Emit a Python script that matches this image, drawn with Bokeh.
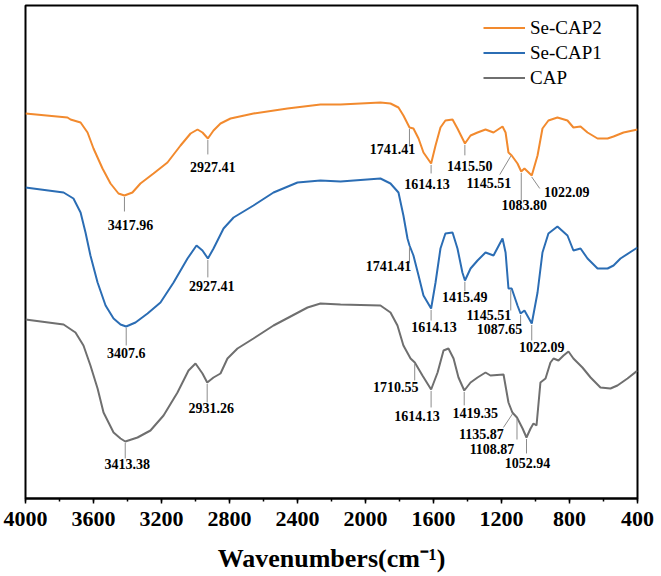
import numpy as np
from bokeh.plotting import figure
from bokeh.models import Range1d, SingleIntervalTicker, ColumnDataSource
from bokeh.core.properties import value
from bokeh.embed import file_html
from bokeh.resources import INLINE

# FTIR spectra (wavenumber in cm^-1, relative transmittance in a.u., stacked)
cap2_wn = [4000, 3753, 3735, 3676, 3635, 3600, 3547, 3500, 3453, 3418, 3371, 3324, 3247, 3165,
           3088, 3029, 2988, 2959, 2927, 2894, 2853, 2794, 2659, 2459, 2265, 2147, 1912, 1853,
           1806, 1777, 1741, 1718, 1688, 1659, 1614, 1588, 1559, 1530, 1488, 1459, 1415, 1382,
           1341, 1294, 1247, 1194, 1176, 1159, 1140, 1106, 1084, 1065, 1022, 988, 959, 924,
           871, 812, 777, 735, 694, 635, 576, 541, 482, 400]
cap2_t = [385, 381, 379, 376, 366, 350, 330, 315, 305, 303, 306, 315, 325, 336,
          353, 365, 369, 366, 360, 368, 375, 380, 385, 390, 394, 394, 396, 395,
          391, 383, 371, 370, 360, 346, 335, 353, 371, 378, 379, 370, 355, 363,
          366, 369, 366, 372, 366, 346, 343, 335, 327, 330, 323, 343, 370, 378,
          381, 378, 371, 372, 366, 360, 360, 362, 366, 369]

cap1_wn = [4000, 3776, 3718, 3676, 3647, 3618, 3576, 3529, 3482, 3441, 3408, 3353, 3282, 3206,
           3129, 3047, 2994, 2959, 2927, 2894, 2835, 2776, 2659, 2541, 2400, 2265, 2147, 1912,
           1853, 1806, 1777, 1753, 1741, 1718, 1688, 1659, 1614, 1588, 1559, 1530, 1488, 1459,
           1430, 1415, 1382, 1341, 1294, 1247, 1194, 1176, 1159, 1140, 1106, 1088, 1065, 1022,
           988, 959, 924, 871, 812, 777, 735, 694, 635, 576, 541, 500, 400]
cap1_t = [311, 306, 300, 286, 266, 243, 216, 193, 180, 174, 172, 176, 185, 196,
          216, 240, 253, 248, 240, 250, 270, 281, 293, 306, 316, 318, 317, 320,
          315, 306, 283, 260, 253, 243, 223, 203, 190, 216, 250, 265, 266, 250,
          226, 218, 230, 238, 246, 243, 260, 246, 210, 210, 193, 185, 188, 175,
          206, 246, 265, 272, 263, 248, 250, 240, 230, 230, 233, 240, 251]

cap_wn = [4000, 3776, 3706, 3659, 3618, 3576, 3541, 3482, 3441, 3413, 3341, 3265, 3188, 3106,
          3041, 3000, 2959, 2931, 2894, 2853, 2812, 2753, 2659, 2541, 2341, 2265, 2147, 1912,
          1853, 1812, 1777, 1735, 1710, 1665, 1614, 1576, 1541, 1512, 1482, 1453, 1419, 1382,
          1341, 1294, 1265, 1188, 1159, 1136, 1109, 1076, 1053, 1029, 1012, 994, 971, 941,
          912, 894, 865, 835, 806, 777, 724, 676, 618, 559, 518, 459, 400]
cap_t = [179, 174, 166, 153, 133, 110, 86, 66, 60, 57, 61, 68, 83, 106,
         128, 135, 125, 116, 121, 125, 140, 150, 160, 173, 191, 195, 194, 193,
         186, 173, 153, 140, 136, 123, 109, 126, 148, 150, 140, 121, 108, 116,
         121, 126, 123, 124, 96, 86, 81, 70, 61, 70, 75, 73, 116, 120,
         136, 140, 138, 143, 147, 140, 131, 121, 111, 110, 113, 120, 128]

# annotated band positions
cap2_peaks = [3417.96, 2927.41, 1741.41, 1614.13, 1415.50, 1145.51, 1083.80, 1022.09]
cap2_labels = ["3417.96", "2927.41", "1741.41", "1614.13", "1415.50", "1145.51", "1083.80", "1022.09"]
cap1_peaks = [3407.6, 2927.41, 1741.41, 1614.13, 1415.49, 1145.51, 1087.65, 1022.09]
cap1_labels = ["3407.6", "2927.41", "1741.41", "1614.13", "1415.49", "1145.51", "1087.65", "1022.09"]
cap_peaks = [3413.38, 2931.26, 1710.55, 1614.13, 1419.35, 1135.87, 1108.87, 1052.94]
cap_labels = ["3413.38", "2931.26", "1710.55", "1614.13", "1419.35", "1135.87", "1108.87", "1052.94"]

series_names = ["Se-CAP2", "Se-CAP1", "CAP"]

# screen-pixel layout of each leader line end (dx, dy) and label centre (dx, dy)
cap2_layout = [(0, 16, 6, 30), (0, 16, 5, 29), (0, 19, -17, 22), (0, 10, -4, 21),
               (0, 12, 5, 23), (-11, 20, -22, 28), (0, 29, 3, 34), (8, 13, 35, 17)]
cap1_layout = [(0, 19, 0, 27), (0, 19, 4, 28), (0, 18, -21, 21), (0, 12, 3, 19),
               (0, 11, 0, 17), (0, 22, -22, 26), (0, 12, -21, 16), (0, 17, 10, 24)]
cap_layout = [(0, 17, 2, 23), (0, 20, 4, 26), (0, 18, -19, 25), (0, 18, -14, 27),
              (0, 15, 11, 23), (-9, 15, -31, 21), (0, 22, -25, 31), (0, 16, 1, 26)]

colors = ["#F28A2E", "#2B6DB4", "#6F6F6F"]

X_START, X_END = 4000, 400
Y_START, Y_END = 0, 493
W, H = 661, 576
BORDER_L, BORDER_R, BORDER_T, BORDER_B = 25, 24, 5, 78
FRAME_W = W - BORDER_L - BORDER_R
FRAME_H = H - BORDER_T - BORDER_B
wn_per_px = (X_START - X_END) / FRAME_W
y_per_px = (Y_END - Y_START) / FRAME_H

SERIF = "Liberation Serif"

p = figure(width=W, height=H, output_backend="svg", toolbar_location=None,
           x_range=Range1d(X_START, X_END), y_range=Range1d(Y_START, Y_END),
           y_axis_type=None,
           min_border_left=BORDER_L, min_border_right=BORDER_R,
           min_border_top=BORDER_T, min_border_bottom=BORDER_B)
p.xgrid.visible = False
p.ygrid.visible = False
p.outline_line_color = "black"
p.outline_line_width = 2
p.background_fill_color = "white"
p.border_fill_color = "white"

ax = p.xaxis[0]
ax.ticker = SingleIntervalTicker(interval=400, num_minor_ticks=2)
ax.axis_line_width = 2
ax.major_tick_in = 0
ax.major_tick_out = 5
ax.minor_tick_in = 0
ax.minor_tick_out = 3
ax.major_tick_line_width = 1.5
ax.minor_tick_line_width = 1.5
ax.major_label_text_font = SERIF
ax.major_label_text_font_style = "bold"
ax.major_label_text_font_size = "22px"
ax.major_label_text_color = "black"
ax.major_label_standoff = 8
ax.axis_label = "Wavenumbers(cm\u207b\u00b9)"
ax.axis_label_text_font = SERIF
ax.axis_label_text_font_style = "bold"
ax.axis_label_text_font_size = "26px"
ax.axis_label_text_color = "black"
ax.axis_label_standoff = 15

all_series = [
    (cap2_wn, cap2_t, cap2_peaks, cap2_labels, cap2_layout),
    (cap1_wn, cap1_t, cap1_peaks, cap1_labels, cap1_layout),
    (cap_wn, cap_t, cap_peaks, cap_labels, cap_layout),
]

for name, color, (wn, t, peaks, labels, layout) in zip(series_names, colors, all_series):
    p.line(wn, t, line_color=color, line_width=2, legend_label=name)

    wn_arr = np.array(wn, dtype=float)[::-1]
    t_arr = np.array(t, dtype=float)[::-1]
    yc = np.interp(peaks, wn_arr, t_arr)
    lay = np.array(layout, dtype=float)

    lead = ColumnDataSource(dict(
        x0=peaks, y0=yc - 1.5 * y_per_px,
        x1=np.array(peaks) - lay[:, 0] * wn_per_px,
        y1=yc - lay[:, 1] * y_per_px))
    p.segment("x0", "y0", "x1", "y1", source=lead, line_color="#8C8C8C", line_width=1)

    lab = ColumnDataSource(dict(x=peaks, y=yc, text=labels, dx=lay[:, 2], dy=lay[:, 3]))
    p.text("x", "y", text="text", x_offset="dx", y_offset="dy", source=lab,
           text_font=value(SERIF), text_font_style="bold", text_font_size="14px",
           text_color="black", text_align="center", text_baseline="middle")

leg = p.legend[0]
leg.location = (454, 405)
leg.margin = 0
leg.padding = 4
leg.spacing = 2
leg.border_line_alpha = 0
leg.background_fill_alpha = 0
leg.glyph_width = 42
leg.glyph_height = 23
leg.label_height = 23
leg.label_standoff = 5
leg.label_text_font = SERIF
leg.label_text_font_size = "19px"
leg.label_text_color = "black"

open("out.html", "w").write(file_html(p, INLINE))
